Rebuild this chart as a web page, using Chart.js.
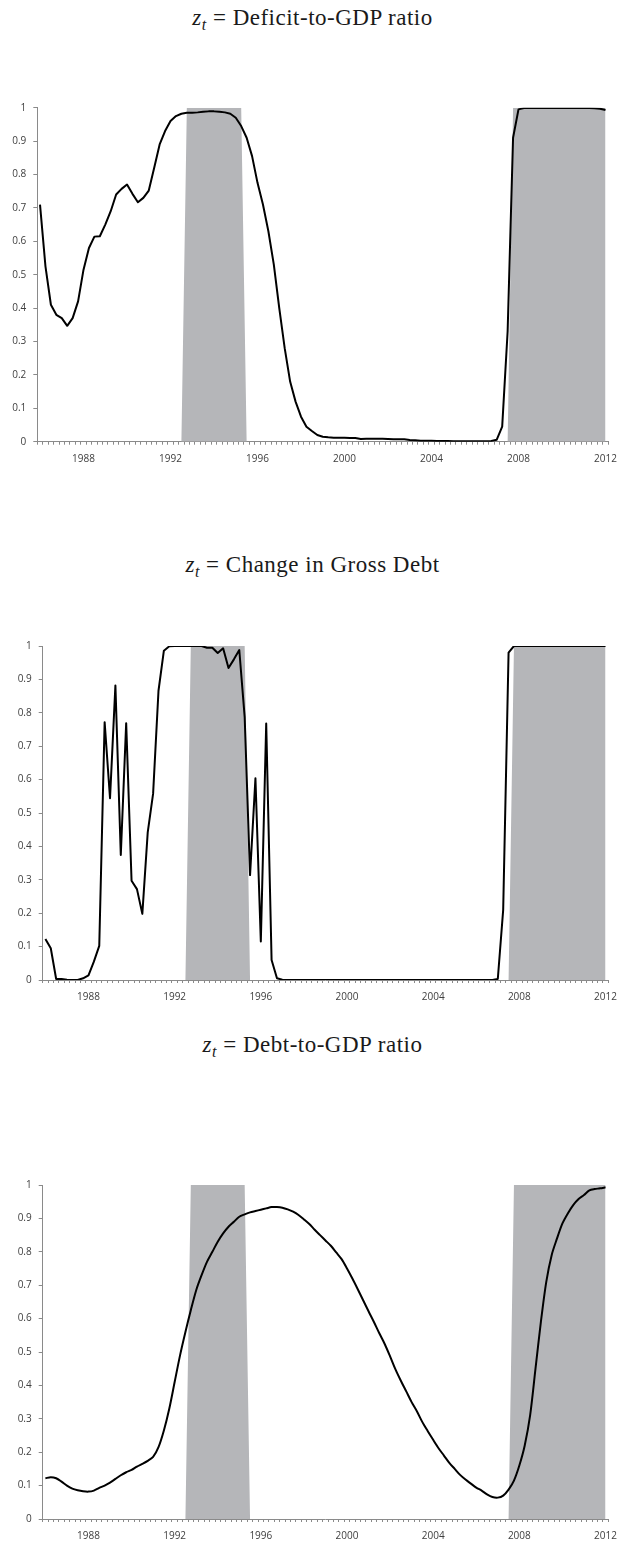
<!DOCTYPE html>
<html>
<head>
<meta charset="utf-8">
<script src="https://cdn.jsdelivr.net/npm/chart.js@4.4.1/dist/chart.umd.min.js"></script>
<style>
  html, body { margin: 0; padding: 0; background: #fff; }
  body { width: 625px; height: 1542px; position: relative; overflow: hidden; }
  .title {
    position: absolute; left: 0; width: 625px; text-align: center;
    font-family: "Liberation Serif", "DejaVu Serif", serif; font-size: 23px; color: #1a1a1a;
    letter-spacing: 0.5px; line-height: 26px; white-space: nowrap;
  }
  .title sub { font-size: 16px; vertical-align: -5px; line-height: 0; }
  canvas { position: absolute; left: 0; }
</style>
</head>
<body>
<div class="title" style="top:5px;"><i>z</i><sub><i>t</i></sub> = Deficit-to-GDP ratio</div>
<canvas id="c1" width="625" height="390" style="top:90px;"></canvas>
<div class="title" style="top:552px;"><i>z</i><sub><i>t</i></sub> = Change in Gross Debt</div>
<canvas id="c2" width="625" height="400" style="top:620px;"></canvas>
<div class="title" style="top:1032px;"><i>z</i><sub><i>t</i></sub> = Debt-to-GDP ratio</div>
<canvas id="c3" width="625" height="382" style="top:1160px;"></canvas>

<script>
// Quarterly sample 1986Q1 .. 2012Q1
const firstYear = 1986;
const lastYear = 2012;
const quarters = [];
for (let y = firstYear; y <= lastYear; y++) {
  for (let q = 1; q <= 4; q++) {
    if (y === lastYear && q > 1) break;
    quarters.push(y + 'Q' + q);
  }
}

// Years labelled on the horizontal axis (placed at the first quarter)
const tickYears = ['1988', '1992', '1996', '2000', '2004', '2008', '2012'];

// Vertical axis labels, bottom to top
const yTickLabels = ['0', '0.1', '0.2', '0.3', '0.4', '0.5', '0.6', '0.7', '0.8', '0.9', '1'];

// Shaded periods (first and last quarter, inclusive)
const shadedPeriods = [['1992Q4', '1995Q2'], ['2007Q4', '2012Q1']];

// Transition probabilities, one value per quarter
const deficitToGdp = [
  0.71, 0.525, 0.41, 0.38, 0.37, 0.347, 0.37, 0.42, 0.515, 0.58,
  0.614, 0.615, 0.65, 0.69, 0.74, 0.757, 0.77, 0.742, 0.717, 0.73,
  0.752, 0.82, 0.89, 0.93, 0.96, 0.975, 0.982, 0.985, 0.985, 0.986,
  0.988, 0.989, 0.989, 0.988, 0.986, 0.982, 0.97, 0.945, 0.91, 0.855,
  0.775, 0.71, 0.63, 0.53, 0.40, 0.28, 0.18, 0.12, 0.075, 0.045,
  0.032, 0.02, 0.015, 0.013, 0.012, 0.012, 0.012, 0.011, 0.011, 0.008,
  0.009, 0.009, 0.009, 0.009, 0.008, 0.007, 0.007, 0.007, 0.005, 0.004,
  0.003, 0.003, 0.003, 0.002, 0.002, 0.002, 0.001, 0.001, 0.001, 0.001,
  0.001, 0.001, 0.001, 0.002, 0.006, 0.045, 0.33, 0.91, 0.995, 0.999,
  0.999, 0.999, 0.999, 0.999, 0.999, 0.999, 0.999, 0.999, 0.999, 0.999,
  0.999, 0.999, 0.998, 0.997, 0.993
];

const grossDebtChange = [
  0.123, 0.095, 0.003, 0.003, 0.001, 0.0, 0.0, 0.005, 0.014, 0.055,
  0.102, 0.772, 0.544, 0.882, 0.374, 0.769, 0.297, 0.272, 0.198, 0.442,
  0.558, 0.866, 0.986, 0.999, 1, 1, 1, 1, 1, 1,
  0.995, 0.995, 0.979, 0.993, 0.934, 0.96, 0.988, 0.788, 0.314, 0.604,
  0.115, 0.768, 0.06, 0.005, 0.001, 0, 0, 0, 0, 0,
  0, 0, 0, 0, 0, 0, 0, 0, 0, 0,
  0, 0, 0, 0, 0, 0, 0, 0, 0, 0,
  0, 0, 0, 0, 0, 0, 0, 0, 0, 0,
  0, 0, 0, 0, 0.003, 0.21, 0.98, 1, 1, 1,
  1, 1, 1, 1, 1, 1, 1, 1, 1, 1,
  1, 1, 1, 1, 1
];

const debtToGdp = [
  0.122, 0.125, 0.122, 0.112, 0.1, 0.091, 0.086, 0.083, 0.082, 0.085,
  0.093, 0.1, 0.109, 0.12, 0.131, 0.14, 0.147, 0.157, 0.165, 0.174,
  0.186, 0.215, 0.265, 0.33, 0.41, 0.49, 0.56, 0.625, 0.685, 0.73,
  0.77, 0.80, 0.83, 0.855, 0.875, 0.89, 0.905, 0.912, 0.918, 0.922,
  0.926, 0.93, 0.934, 0.934, 0.932, 0.927, 0.92, 0.91, 0.897, 0.883,
  0.866, 0.85, 0.834, 0.818, 0.798, 0.778, 0.75, 0.72, 0.688, 0.655,
  0.622, 0.59, 0.556, 0.524, 0.487, 0.448, 0.414, 0.382, 0.35, 0.322,
  0.29, 0.263, 0.237, 0.212, 0.19, 0.168, 0.15, 0.132, 0.118, 0.106,
  0.094, 0.085, 0.074, 0.066, 0.064, 0.07, 0.088, 0.115, 0.16, 0.22,
  0.31, 0.45, 0.59, 0.71, 0.79, 0.84, 0.885, 0.915, 0.94, 0.958,
  0.97, 0.984, 0.988, 0.99, 0.993
];

// 0/1 indicator for the shaded periods
const shading = quarters.map(q => shadedPeriods.some(([a, b]) => q >= a && q <= b) ? 1 : 0);

const AXIS_GREY = '#8a8a8a';
const LABEL_GREY = '#404040';
const SHADE = '#b5b6b9';
const tickFont = { family: '"Open Sans", "Liberation Sans", sans-serif', size: 10 };

function makeChart(id, values, pad, yAxisWidth, xAxisHeight, smooth) {
  const ctx = document.getElementById(id).getContext('2d');
  return new Chart(ctx, {
    type: 'line',
    data: {
      labels: quarters,
      datasets: [
        {
          data: values,
          borderColor: '#000',
          borderWidth: 2,
          pointRadius: 0,
          tension: smooth ? 0.3 : 0,
          borderJoinStyle: 'round',
          fill: false,
          order: 0
        },
        {
          data: shading,
          borderWidth: 0,
          borderColor: SHADE,
          backgroundColor: SHADE,
          pointRadius: 0,
          tension: 0,
          fill: 'origin',
          order: 1
        }
      ]
    },
    options: {
      responsive: false,
      animation: false,
      devicePixelRatio: 1,
      events: [],
      layout: { padding: pad, autoPadding: false },
      plugins: { legend: { display: false }, tooltip: { enabled: false } },
      scales: {
        x: {
          type: 'category',
          offset: true,
          afterFit: s => { s.height = xAxisHeight; },
          border: { display: true, color: AXIS_GREY, width: 1 },
          grid: {
            display: true, offset: true, drawOnChartArea: false, drawTicks: true,
            tickLength: 3, color: AXIS_GREY, lineWidth: 1
          },
          ticks: {
            autoSkip: false, maxRotation: 0, minRotation: 0, padding: 8,
            color: LABEL_GREY, font: tickFont,
            callback: function (v, i) {
              const year = quarters[i].slice(0, 4);
              return (quarters[i].endsWith('Q1') && tickYears.includes(year)) ? year : '';
            }
          }
        },
        y: {
          min: 0, max: 1,
          afterFit: s => { s.width = yAxisWidth; },
          border: { display: true, color: AXIS_GREY, width: 1 },
          grid: { display: true, drawOnChartArea: false, drawTicks: true, tickLength: 4, color: AXIS_GREY },
          ticks: {
            stepSize: 0.1, padding: 7, color: LABEL_GREY, font: tickFont,
            callback: function (v, i) { return yTickLabels[i]; }
          }
        }
      }
    }
  });
}

makeChart('c1', deficitToGdp, { top: 17.7, left: 0, right: 15, bottom: 8.3 }, 37.3, 30, false);
makeChart('c2', grossDebtChange, { top: 26, left: 0, right: 11, bottom: 10 }, 42.7, 30, false);
makeChart('c3', debtToGdp, { top: 25, left: 0, right: 11, bottom: 0 }, 42.7, 23, true);
</script>
</body>
</html>
